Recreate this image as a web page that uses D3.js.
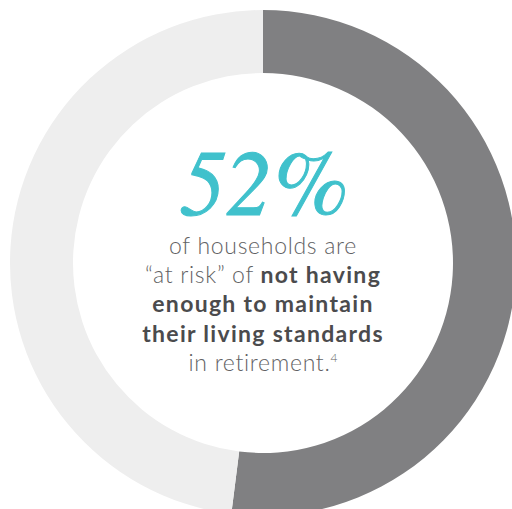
<!DOCTYPE html>
<html>
<head>
<meta charset="utf-8">
<script src="https://cdn.jsdelivr.net/npm/d3@7"></script>
<style>
  body { margin: 0; background: #fff; }
  svg { display: block; }
  .big { font-family: 'FreeSerif', 'Liberation Serif', serif; font-style: italic; }
</style>
</head>
<body>
<div id="chart"></div>
<script>
// donut shares
const categories = ['at risk', 'not at risk'];
const shares = [52, 48];
const segColors = ['#808082', '#eeeeee'];
const headline = '52%';

// text lines: each line is a list of [text, bold]
const lines = [
    [['of households are', false]],
    [['\u201Cat risk\u201D of ', false], ['not having', true]],
    [['enough to maintain', true]],
    [['their living standards', true]],
    [['in retirement.', false], ['4', 'sup']]
];

const width = 512, height = 509;
const cx = 263, cy = 263;
const outerR = 253, innerR = 190;

const svg = d3.select('#chart').append('svg')
    .attr('width', width)
    .attr('height', height);

const g = svg.append('g')
    .attr('transform', `translate(${cx},${cy})`);

const pie = d3.pie().sort(null).value(d => d);
const arc = d3.arc().innerRadius(innerR).outerRadius(outerR);

g.selectAll('path.seg')
    .data(pie(shares))
    .enter()
    .append('path')
    .attr('class', 'seg')
    .attr('d', arc)
    .attr('fill', (d, i) => segColors[i]);

g.append('text')
    .text(headline)
    .attr('class', 'big')
    .attr('x', 1)
    .attr('y', -48)
    .attr('text-anchor', 'middle')
    .style('font-size', '92px')
    .style('fill', '#40c1cc')
    .style('stroke', '#40c1cc')
    .style('stroke-width', 1);

let lineY = -9;
lines.forEach(parts => {
    const t = g.append('text')
        .attr('x', 0)
        .attr('y', lineY)
        .attr('text-anchor', 'middle')
        .style('font-family', 'Lato, sans-serif')
        .style('font-size', '23px')
        .style('fill', '#626264');
    parts.forEach(p => {
        const span = t.append('tspan').text(p[0]);
        if (p[1] === true) span.style('font-weight', 700).style('letter-spacing', '1.3px').style('fill', '#4b4b4d');
        else if (p[1] === 'sup') span.style('font-size', '12px').attr('dy', -9).style('font-weight', 300);
        else span.style('font-weight', 300).style('letter-spacing', '0.7px');
    });
    lineY += 29.2;
});
</script>
</body>
</html>
